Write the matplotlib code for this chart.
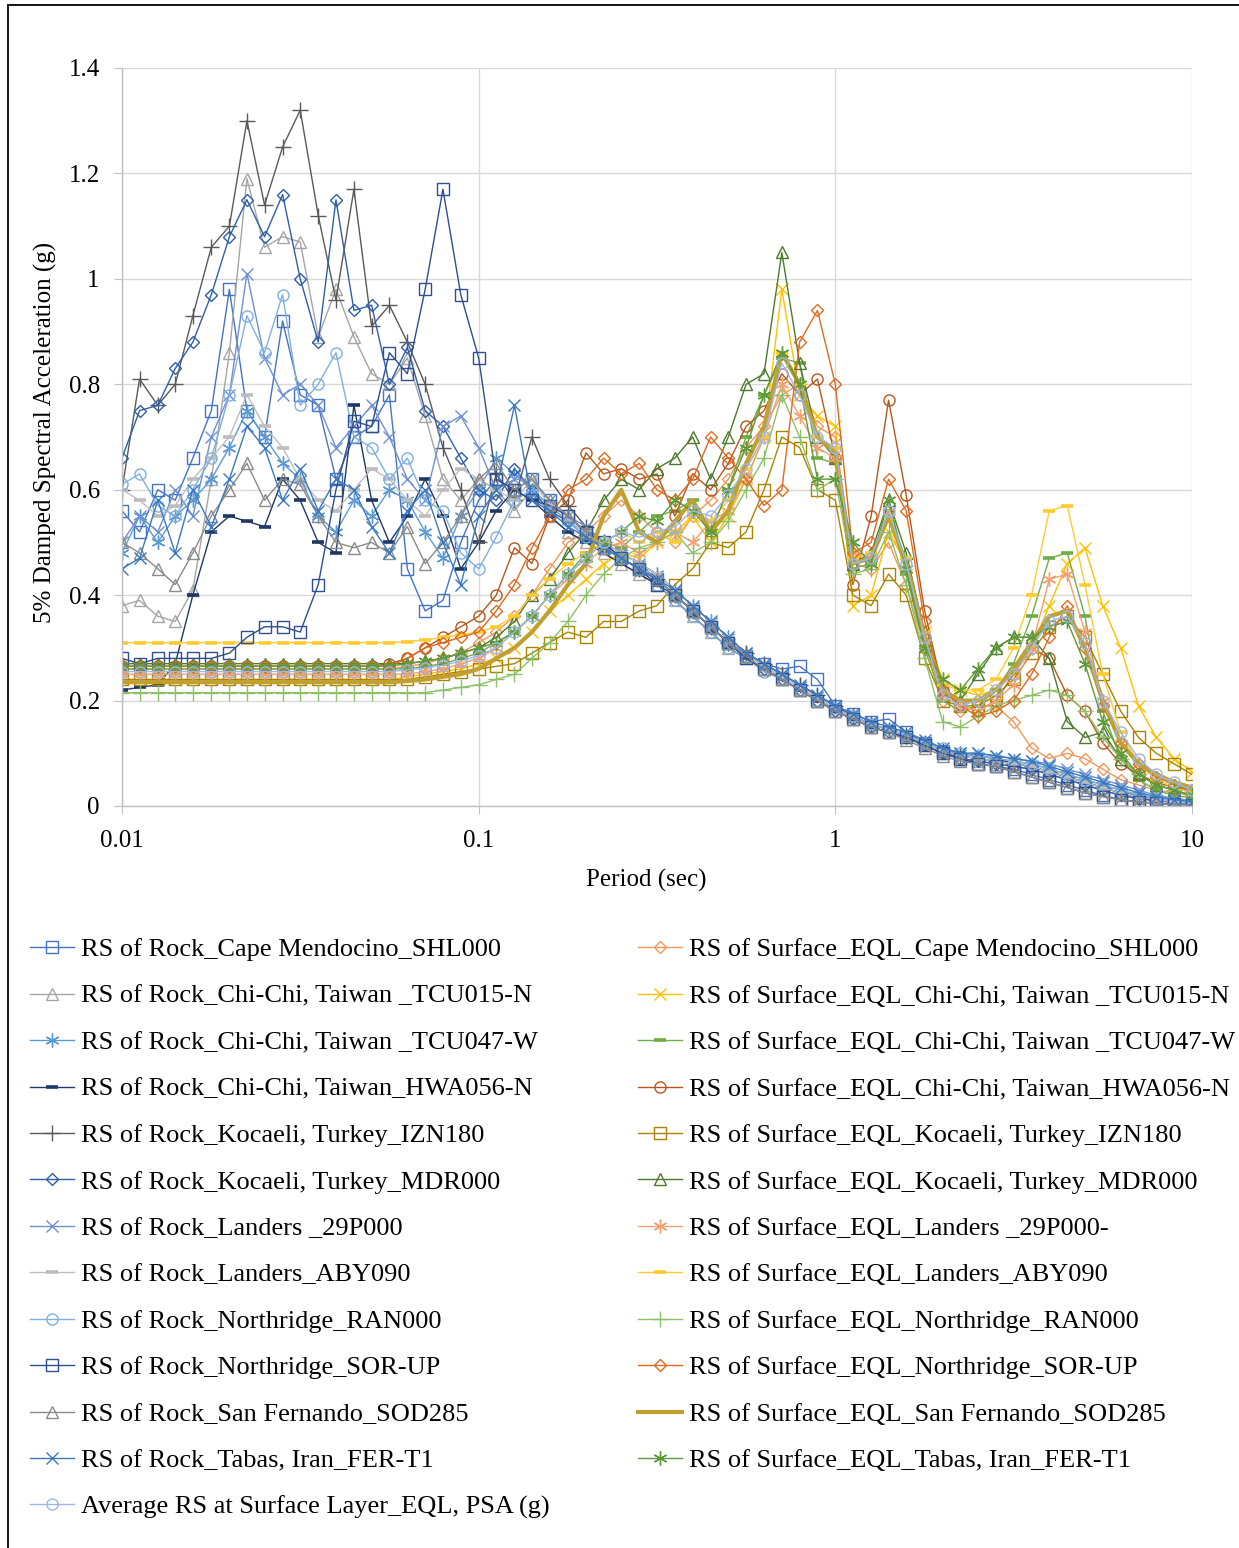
import matplotlib
matplotlib.use("Agg")
import matplotlib.pyplot as plt
from matplotlib.ticker import FixedLocator, NullLocator
from matplotlib.patches import Rectangle

plt.rcParams['font.family'] = ['Liberation Serif', 'DejaVu Serif']

# ---------------- data ----------------
period = [0.01, 0.0112, 0.0126, 0.0141, 0.0158, 0.0178, 0.02, 0.0224, 0.0251, 0.0282,
          0.0316, 0.0355, 0.0398, 0.0447, 0.0501, 0.0562, 0.0631, 0.0708, 0.0794, 0.0891,
          0.1, 0.112, 0.126, 0.141, 0.158, 0.178, 0.2, 0.224, 0.251, 0.282,
          0.316, 0.355, 0.398, 0.447, 0.501, 0.562, 0.631, 0.708, 0.794, 0.891,
          1.0, 1.12, 1.26, 1.41, 1.58, 1.78, 2.0, 2.24, 2.51, 2.82,
          3.16, 3.55, 3.98, 4.47, 5.01, 5.62, 6.31, 7.08, 7.94, 8.91, 10.0]

x_ticks = [0.01, 0.1, 1, 10]
x_tick_labels = ["0.01", "0.1", "1", "10"]
y_ticks = [0, 0.2, 0.4, 0.6, 0.8, 1.0, 1.2, 1.4]
y_tick_labels = ["0", "0.2", "0.4", "0.6", "0.8", "1", "1.2", "1.4"]

rock_names = ["RS of Rock_Cape Mendocino_SHL000",
              "RS of Rock_Chi-Chi, Taiwan _TCU015-N",
              "RS of Rock_Chi-Chi, Taiwan _TCU047-W",
              "RS of Rock_Chi-Chi, Taiwan_HWA056-N",
              "RS of Rock_Kocaeli, Turkey_IZN180",
              "RS of Rock_Kocaeli, Turkey_MDR000",
              "RS of Rock_Landers _29P000",
              "RS of Rock_Landers_ABY090",
              "RS of Rock_Northridge_RAN000",
              "RS of Rock_Northridge_SOR-UP",
              "RS of Rock_San Fernando_SOD285",
              "RS of Rock_Tabas, Iran_FER-T1"]
surf_names = ["RS of Surface_EQL_Cape Mendocino_SHL000",
              "RS of Surface_EQL_Chi-Chi, Taiwan _TCU015-N",
              "RS of Surface_EQL_Chi-Chi, Taiwan _TCU047-W",
              "RS of Surface_EQL_Chi-Chi, Taiwan_HWA056-N",
              "RS of Surface_EQL_Kocaeli, Turkey_IZN180",
              "RS of Surface_EQL_Kocaeli, Turkey_MDR000",
              "RS of Surface_EQL_Landers _29P000-",
              "RS of Surface_EQL_Landers_ABY090",
              "RS of Surface_EQL_Northridge_RAN000",
              "RS of Surface_EQL_Northridge_SOR-UP",
              "RS of Surface_EQL_San Fernando_SOD285",
              "RS of Surface_EQL_Tabas, Iran_FER-T1"]
avg_name = "Average RS at Surface Layer_EQL, PSA (g)"

rock_cape = [0.56, 0.52, 0.60, 0.58, 0.66, 0.75, 0.98, 0.75, 0.70, 0.92, 0.78, 0.76, 0.62, 0.70, 0.72, 0.78, 0.45, 0.37, 0.39, 0.50,
             0.58, 0.62, 0.60, 0.62, 0.58, 0.55, 0.52, 0.49, 0.47, 0.45, 0.43, 0.40, 0.37, 0.34, 0.31, 0.285, 0.27, 0.26, 0.265, 0.24,
             0.19, 0.175, 0.16, 0.165, 0.14, 0.12, 0.105, 0.09, 0.08, 0.075, 0.07, 0.06, 0.05, 0.04, 0.03, 0.02, 0.012, 0.008, 0.005, 0.004, 0.003]
rock_tcu015 = [0.38, 0.39, 0.36, 0.35, 0.41, 0.62, 0.86, 1.19, 1.06, 1.08, 1.07, 0.89, 0.98, 0.89, 0.82, 0.80, 0.85, 0.74, 0.62, 0.58,
               0.62, 0.60, 0.56, 0.60, 0.55, 0.52, 0.50, 0.48, 0.46, 0.44, 0.42, 0.39, 0.36, 0.33, 0.30, 0.28, 0.26, 0.24, 0.22, 0.20,
               0.18, 0.165, 0.15, 0.14, 0.13, 0.115, 0.10, 0.09, 0.085, 0.08, 0.075, 0.07, 0.06, 0.05, 0.04, 0.03, 0.02, 0.015, 0.01, 0.007, 0.005]
rock_tcu047 = [0.48, 0.55, 0.50, 0.55, 0.58, 0.62, 0.68, 0.75, 0.70, 0.65, 0.62, 0.55, 0.52, 0.58, 0.55, 0.60, 0.58, 0.52, 0.47, 0.55,
               0.60, 0.66, 0.63, 0.60, 0.57, 0.54, 0.52, 0.50, 0.48, 0.46, 0.44, 0.41, 0.38, 0.35, 0.32, 0.29, 0.27, 0.25, 0.23, 0.21,
               0.19, 0.17, 0.155, 0.145, 0.13, 0.12, 0.105, 0.10, 0.095, 0.09, 0.085, 0.08, 0.07, 0.06, 0.05, 0.04, 0.03, 0.02, 0.015, 0.01, 0.007]
rock_hwa056 = [0.22, 0.225, 0.23, 0.27, 0.40, 0.52, 0.55, 0.54, 0.53, 0.62, 0.58, 0.50, 0.48, 0.76, 0.58, 0.50, 0.55, 0.62, 0.55, 0.45,
               0.50, 0.56, 0.60, 0.58, 0.55, 0.52, 0.50, 0.48, 0.46, 0.44, 0.42, 0.39, 0.36, 0.33, 0.30, 0.28, 0.26, 0.24, 0.22, 0.20,
               0.18, 0.165, 0.15, 0.14, 0.13, 0.12, 0.11, 0.10, 0.095, 0.09, 0.08, 0.075, 0.065, 0.055, 0.045, 0.035, 0.025, 0.018, 0.012, 0.008, 0.005]
rock_izn180 = [0.60, 0.81, 0.76, 0.80, 0.93, 1.06, 1.10, 1.30, 1.14, 1.25, 1.32, 1.12, 0.96, 1.17, 0.91, 0.95, 0.88, 0.80, 0.68, 0.60,
               0.50, 0.63, 0.58, 0.70, 0.62, 0.57, 0.53, 0.50, 0.47, 0.45, 0.43, 0.40, 0.37, 0.34, 0.31, 0.29, 0.27, 0.25, 0.23, 0.21,
               0.19, 0.17, 0.155, 0.145, 0.135, 0.12, 0.105, 0.095, 0.09, 0.085, 0.08, 0.075, 0.065, 0.055, 0.045, 0.035, 0.025, 0.018, 0.012, 0.009, 0.006]
rock_mdr000 = [0.66, 0.75, 0.76, 0.83, 0.88, 0.97, 1.08, 1.15, 1.08, 1.16, 1.00, 0.88, 1.15, 0.94, 0.95, 0.80, 0.87, 0.75, 0.72, 0.66,
               0.60, 0.58, 0.64, 0.60, 0.56, 0.54, 0.51, 0.49, 0.47, 0.45, 0.43, 0.40, 0.37, 0.34, 0.31, 0.28, 0.26, 0.24, 0.22, 0.20,
               0.18, 0.165, 0.15, 0.14, 0.13, 0.115, 0.10, 0.09, 0.085, 0.08, 0.075, 0.07, 0.06, 0.05, 0.04, 0.03, 0.02, 0.014, 0.01, 0.007, 0.005]
rock_29p000 = [0.50, 0.55, 0.52, 0.60, 0.55, 0.70, 0.78, 1.01, 0.85, 0.78, 0.80, 0.76, 0.68, 0.72, 0.76, 0.70, 0.62, 0.58, 0.72, 0.74,
               0.68, 0.60, 0.62, 0.62, 0.58, 0.55, 0.53, 0.50, 0.48, 0.46, 0.43, 0.40, 0.37, 0.34, 0.31, 0.29, 0.265, 0.245, 0.225, 0.205,
               0.185, 0.17, 0.155, 0.145, 0.135, 0.12, 0.105, 0.10, 0.10, 0.095, 0.09, 0.085, 0.08, 0.07, 0.06, 0.05, 0.04, 0.03, 0.02, 0.015, 0.01]
rock_aby090 = [0.60, 0.58, 0.55, 0.57, 0.62, 0.66, 0.70, 0.78, 0.72, 0.68, 0.62, 0.58, 0.56, 0.60, 0.64, 0.62, 0.58, 0.55, 0.60, 0.64,
               0.62, 0.60, 0.58, 0.62, 0.57, 0.54, 0.52, 0.50, 0.48, 0.46, 0.44, 0.41, 0.38, 0.35, 0.32, 0.29, 0.265, 0.245, 0.225, 0.205,
               0.185, 0.17, 0.155, 0.145, 0.135, 0.12, 0.105, 0.095, 0.09, 0.085, 0.08, 0.075, 0.065, 0.055, 0.045, 0.035, 0.025, 0.018, 0.012, 0.008, 0.005]
rock_ran000 = [0.61, 0.63, 0.57, 0.55, 0.60, 0.66, 0.78, 0.93, 0.86, 0.97, 0.76, 0.80, 0.86, 0.70, 0.68, 0.62, 0.66, 0.58, 0.56, 0.48,
               0.45, 0.51, 0.58, 0.60, 0.57, 0.54, 0.51, 0.49, 0.47, 0.45, 0.42, 0.39, 0.36, 0.33, 0.30, 0.28, 0.255, 0.24, 0.22, 0.20,
               0.185, 0.17, 0.155, 0.145, 0.13, 0.12, 0.11, 0.10, 0.095, 0.09, 0.085, 0.08, 0.07, 0.06, 0.05, 0.04, 0.03, 0.022, 0.015, 0.01, 0.007]
rock_sorup = [0.28, 0.27, 0.28, 0.28, 0.28, 0.28, 0.29, 0.32, 0.34, 0.34, 0.33, 0.42, 0.60, 0.73, 0.72, 0.86, 0.82, 0.98, 1.17, 0.97,
              0.85, 0.62, 0.60, 0.58, 0.57, 0.55, 0.52, 0.50, 0.47, 0.45, 0.42, 0.40, 0.37, 0.34, 0.31, 0.28, 0.26, 0.24, 0.22, 0.20,
              0.18, 0.165, 0.15, 0.14, 0.13, 0.115, 0.10, 0.09, 0.08, 0.075, 0.065, 0.055, 0.045, 0.035, 0.025, 0.018, 0.012, 0.008, 0.005, 0.003, 0.002]
rock_sod285 = [0.50, 0.48, 0.45, 0.42, 0.48, 0.55, 0.60, 0.65, 0.58, 0.62, 0.61, 0.55, 0.50, 0.49, 0.50, 0.48, 0.53, 0.46, 0.50, 0.55,
               0.62, 0.65, 0.60, 0.62, 0.58, 0.55, 0.52, 0.49, 0.47, 0.45, 0.43, 0.40, 0.37, 0.34, 0.31, 0.285, 0.26, 0.24, 0.22, 0.20,
               0.18, 0.165, 0.15, 0.14, 0.125, 0.11, 0.095, 0.085, 0.08, 0.075, 0.065, 0.055, 0.045, 0.035, 0.025, 0.018, 0.012, 0.008, 0.005, 0.003, 0.002]
rock_tabas = [0.45, 0.47, 0.58, 0.48, 0.60, 0.53, 0.62, 0.72, 0.68, 0.58, 0.64, 0.56, 0.62, 0.60, 0.53, 0.48, 0.56, 0.60, 0.50, 0.42,
              0.55, 0.60, 0.76, 0.58, 0.56, 0.53, 0.51, 0.49, 0.47, 0.45, 0.43, 0.41, 0.38, 0.35, 0.32, 0.29, 0.27, 0.25, 0.23, 0.21,
              0.19, 0.175, 0.16, 0.15, 0.14, 0.125, 0.11, 0.10, 0.10, 0.095, 0.09, 0.085, 0.075, 0.065, 0.055, 0.045, 0.035, 0.025, 0.018, 0.012, 0.008]

surf_cape = [0.26, 0.26, 0.26, 0.26, 0.26, 0.26, 0.26, 0.26, 0.26, 0.26, 0.26, 0.26, 0.26, 0.26, 0.26, 0.26, 0.265, 0.27, 0.28, 0.29,
             0.31, 0.33, 0.36, 0.40, 0.45, 0.50, 0.52, 0.55, 0.58, 0.55, 0.52, 0.50, 0.55, 0.58, 0.62, 0.68, 0.72, 0.78, 0.80, 0.72,
             0.70, 0.46, 0.45, 0.50, 0.42, 0.30, 0.20, 0.18, 0.19, 0.19, 0.16, 0.11, 0.09, 0.10, 0.09, 0.07, 0.05, 0.04, 0.03, 0.025, 0.02]
surf_tcu015 = [0.24, 0.24, 0.24, 0.24, 0.24, 0.24, 0.24, 0.24, 0.24, 0.24, 0.24, 0.24, 0.24, 0.24, 0.24, 0.24, 0.245, 0.25, 0.255, 0.26,
               0.27, 0.28, 0.30, 0.33, 0.37, 0.40, 0.43, 0.46, 0.48, 0.47, 0.50, 0.52, 0.55, 0.50, 0.55, 0.62, 0.70, 0.98, 0.78, 0.74,
               0.72, 0.38, 0.40, 0.52, 0.46, 0.33, 0.24, 0.22, 0.21, 0.22, 0.25, 0.30, 0.38, 0.46, 0.49, 0.38, 0.30, 0.19, 0.13, 0.09, 0.065]
surf_tcu047 = [0.26, 0.26, 0.26, 0.26, 0.26, 0.26, 0.26, 0.26, 0.26, 0.26, 0.26, 0.26, 0.26, 0.26, 0.26, 0.26, 0.26, 0.265, 0.27, 0.28,
               0.29, 0.31, 0.33, 0.36, 0.40, 0.44, 0.48, 0.50, 0.49, 0.52, 0.55, 0.56, 0.58, 0.52, 0.60, 0.70, 0.78, 0.85, 0.84, 0.66,
               0.65, 0.45, 0.46, 0.56, 0.44, 0.30, 0.20, 0.18, 0.19, 0.22, 0.27, 0.36, 0.47, 0.48, 0.36, 0.18, 0.09, 0.05, 0.03, 0.02, 0.015]
surf_hwa056 = [0.265, 0.265, 0.265, 0.265, 0.265, 0.265, 0.265, 0.265, 0.265, 0.265, 0.265, 0.265, 0.265, 0.265, 0.265, 0.27, 0.28, 0.30, 0.32, 0.34,
               0.36, 0.40, 0.49, 0.46, 0.55, 0.58, 0.67, 0.63, 0.64, 0.62, 0.63, 0.55, 0.63, 0.60, 0.65, 0.72, 0.75, 0.82, 0.78, 0.81,
               0.66, 0.42, 0.55, 0.77, 0.59, 0.37, 0.22, 0.19, 0.18, 0.20, 0.25, 0.30, 0.28, 0.21, 0.18, 0.12, 0.08, 0.06, 0.045, 0.035, 0.03]
surf_izn180 = [0.24, 0.24, 0.24, 0.24, 0.24, 0.24, 0.24, 0.24, 0.24, 0.24, 0.24, 0.24, 0.24, 0.24, 0.24, 0.24, 0.24, 0.245, 0.25, 0.255,
               0.26, 0.265, 0.27, 0.29, 0.31, 0.33, 0.32, 0.35, 0.35, 0.37, 0.38, 0.42, 0.45, 0.50, 0.49, 0.52, 0.60, 0.70, 0.68, 0.60,
               0.58, 0.40, 0.38, 0.44, 0.40, 0.28, 0.20, 0.19, 0.19, 0.21, 0.24, 0.29, 0.34, 0.36, 0.32, 0.25, 0.18, 0.13, 0.10, 0.08, 0.06]
surf_mdr000 = [0.27, 0.27, 0.27, 0.27, 0.27, 0.27, 0.27, 0.27, 0.27, 0.27, 0.27, 0.27, 0.27, 0.27, 0.27, 0.27, 0.27, 0.275, 0.28, 0.29,
               0.30, 0.32, 0.35, 0.40, 0.43, 0.48, 0.52, 0.58, 0.62, 0.60, 0.64, 0.66, 0.70, 0.62, 0.70, 0.80, 0.82, 1.05, 0.84, 0.70,
               0.66, 0.46, 0.48, 0.58, 0.48, 0.33, 0.22, 0.20, 0.25, 0.30, 0.32, 0.32, 0.28, 0.16, 0.13, 0.14, 0.09, 0.06, 0.04, 0.03, 0.02]
surf_29p000 = [0.25, 0.25, 0.25, 0.25, 0.25, 0.25, 0.25, 0.25, 0.25, 0.25, 0.25, 0.25, 0.25, 0.25, 0.25, 0.25, 0.25, 0.255, 0.26, 0.27,
               0.28, 0.30, 0.33, 0.36, 0.40, 0.43, 0.46, 0.49, 0.50, 0.48, 0.50, 0.52, 0.50, 0.54, 0.56, 0.62, 0.70, 0.80, 0.74, 0.68,
               0.66, 0.48, 0.47, 0.56, 0.45, 0.31, 0.21, 0.19, 0.18, 0.20, 0.23, 0.30, 0.43, 0.44, 0.33, 0.20, 0.12, 0.08, 0.05, 0.035, 0.025]
surf_aby090 = [0.31, 0.31, 0.31, 0.31, 0.31, 0.31, 0.31, 0.31, 0.31, 0.31, 0.31, 0.31, 0.31, 0.31, 0.31, 0.31, 0.312, 0.315, 0.32, 0.325,
               0.33, 0.34, 0.36, 0.40, 0.43, 0.46, 0.48, 0.50, 0.52, 0.50, 0.52, 0.50, 0.56, 0.54, 0.58, 0.64, 0.70, 0.86, 0.80, 0.70,
               0.68, 0.47, 0.48, 0.54, 0.47, 0.33, 0.23, 0.22, 0.22, 0.24, 0.30, 0.40, 0.56, 0.57, 0.42, 0.25, 0.14, 0.08, 0.05, 0.035, 0.025]
surf_ran000 = [0.215, 0.215, 0.215, 0.215, 0.215, 0.215, 0.215, 0.215, 0.215, 0.215, 0.215, 0.215, 0.215, 0.215, 0.215, 0.215, 0.215, 0.215, 0.22, 0.225,
               0.23, 0.24, 0.25, 0.28, 0.31, 0.35, 0.40, 0.44, 0.47, 0.49, 0.50, 0.52, 0.48, 0.50, 0.54, 0.60, 0.66, 0.78, 0.70, 0.60,
               0.62, 0.44, 0.45, 0.52, 0.42, 0.28, 0.16, 0.15, 0.17, 0.19, 0.20, 0.21, 0.22, 0.21, 0.18, 0.13, 0.09, 0.06, 0.04, 0.03, 0.02]
surf_sorup = [0.265, 0.265, 0.265, 0.265, 0.265, 0.265, 0.265, 0.265, 0.265, 0.265, 0.265, 0.265, 0.265, 0.265, 0.265, 0.265, 0.28, 0.30, 0.31, 0.32,
              0.33, 0.37, 0.42, 0.49, 0.55, 0.60, 0.62, 0.66, 0.63, 0.65, 0.60, 0.58, 0.62, 0.70, 0.66, 0.62, 0.57, 0.60, 0.88, 0.94,
              0.80, 0.48, 0.50, 0.62, 0.56, 0.35, 0.22, 0.19, 0.17, 0.18, 0.20, 0.25, 0.32, 0.38, 0.30, 0.19, 0.12, 0.08, 0.055, 0.04, 0.03]
surf_sod285 = [0.235, 0.235, 0.235, 0.235, 0.235, 0.235, 0.235, 0.235, 0.235, 0.235, 0.235, 0.235, 0.235, 0.235, 0.235, 0.235, 0.237, 0.24, 0.245, 0.25,
               0.26, 0.28, 0.30, 0.33, 0.37, 0.42, 0.46, 0.55, 0.60, 0.52, 0.50, 0.54, 0.58, 0.52, 0.56, 0.65, 0.72, 0.86, 0.80, 0.70,
               0.67, 0.46, 0.47, 0.55, 0.46, 0.32, 0.22, 0.20, 0.20, 0.22, 0.26, 0.31, 0.36, 0.37, 0.30, 0.20, 0.12, 0.08, 0.06, 0.045, 0.035]
surf_tabas = [0.265, 0.265, 0.265, 0.265, 0.265, 0.265, 0.265, 0.265, 0.265, 0.265, 0.265, 0.265, 0.265, 0.265, 0.265, 0.265, 0.27, 0.275, 0.28, 0.29,
              0.30, 0.31, 0.33, 0.36, 0.40, 0.44, 0.47, 0.50, 0.52, 0.55, 0.54, 0.58, 0.56, 0.52, 0.60, 0.68, 0.78, 0.86, 0.80, 0.62,
              0.62, 0.50, 0.46, 0.58, 0.45, 0.30, 0.24, 0.22, 0.26, 0.30, 0.32, 0.32, 0.34, 0.35, 0.27, 0.16, 0.10, 0.06, 0.04, 0.03, 0.02]
surf_average = [0.255, 0.255, 0.255, 0.255, 0.255, 0.255, 0.255, 0.255, 0.255, 0.255, 0.255, 0.255, 0.255, 0.255, 0.255, 0.255, 0.258, 0.262, 0.267, 0.275,
                0.285, 0.30, 0.33, 0.36, 0.40, 0.44, 0.47, 0.50, 0.52, 0.51, 0.52, 0.53, 0.56, 0.55, 0.59, 0.64, 0.70, 0.84, 0.78, 0.70,
                0.68, 0.46, 0.47, 0.56, 0.46, 0.32, 0.21, 0.19, 0.20, 0.22, 0.25, 0.30, 0.35, 0.36, 0.31, 0.20, 0.14, 0.09, 0.06, 0.045, 0.03]

rock_values = [rock_cape, rock_tcu015, rock_tcu047, rock_hwa056, rock_izn180, rock_mdr000,
               rock_29p000, rock_aby090, rock_ran000, rock_sorup, rock_sod285, rock_tabas]
surf_values = [surf_cape, surf_tcu015, surf_tcu047, surf_hwa056, surf_izn180, surf_mdr000,
               surf_29p000, surf_aby090, surf_ran000, surf_sorup, surf_sod285, surf_tabas]

# ---------------- styles ----------------
AST = (6, 2, 0)
rock_styles = [
    dict(color='#4472C4', marker='s', ms=8),
    dict(color='#A5A5A5', marker='^', ms=8),
    dict(color='#5B9BD5', marker=AST, ms=10),
    dict(color='#203864', marker='_', ms=9, mew=2.6),
    dict(color='#595959', marker='+', ms=11),
    dict(color='#2F5FA8', marker='D', ms=6.5),
    dict(color='#6F8FD0', marker='x', ms=8),
    dict(color='#BDBDBD', marker='_', ms=9, mew=2.6),
    dict(color='#7FB0DE', marker='o', ms=8),
    dict(color='#2E4E8F', marker='s', ms=8),
    dict(color='#8A8A8A', marker='^', ms=8),
    dict(color='#3A78C0', marker='x', ms=9),
]
surf_styles = [
    dict(color='#F1975A', marker='D', ms=6.5),
    dict(color='#FFC000', marker='x', ms=9),
    dict(color='#70AD47', marker='_', ms=9, mew=2.6),
    dict(color='#B8561C', marker='o', ms=8),
    dict(color='#A88400', marker='s', ms=8),
    dict(color='#4E7A2E', marker='^', ms=8),
    dict(color='#F4A070', marker=AST, ms=10),
    dict(color='#FFCB2F', marker='_', ms=9, mew=2.6),
    dict(color='#8CC168', marker='+', ms=11),
    dict(color='#DD6A1E', marker='D', ms=6.5),
    dict(color='#C0A030', marker='None', lw=3.0),
    dict(color='#5E9A3A', marker=AST, ms=10),
]
avg_style = dict(color='#9DB7E3', marker='o', ms=8)

fig = plt.figure(figsize=(12.39, 15.48), dpi=100)
W, H = 1239.0, 1548.0
ax = fig.add_axes([122 / W, 1 - 806 / H, (1192 - 122) / W, (806 - 68) / H])
ax.set_xscale('log')


def draw(vals, st, label):
    kw = dict(lw=1.0, mew=1.0, mfc='none')
    kw.update(st)
    line, = ax.plot(period, vals, label=label, **kw)
    return line


rock_handles, surf_handles = [], []
for i in range(12):
    rock_handles.append(draw(rock_values[i], rock_styles[i], rock_names[i]))
    surf_handles.append(draw(surf_values[i], surf_styles[i], surf_names[i]))
avg_handle = draw(surf_average, avg_style, avg_name)

ax.set_xlim(0.01, 10)
ax.set_ylim(0, 1.4)
ax.xaxis.set_major_locator(FixedLocator(x_ticks))
ax.xaxis.set_minor_locator(NullLocator())
ax.set_xticklabels(x_tick_labels)
ax.yaxis.set_major_locator(FixedLocator(y_ticks))
ax.set_yticklabels(y_tick_labels)
ax.grid(True, which='major', color='#D9D9D9', lw=1.0)
ax.set_axisbelow(True)
for s in ['top', 'right']:
    ax.spines[s].set_visible(False)
for s in ['left', 'bottom']:
    ax.spines[s].set_color('#BFBFBF')
    ax.spines[s].set_linewidth(1.0)
ax.tick_params(axis='x', direction='out', length=6, color='#BFBFBF', labelsize=18, pad=11)
ax.tick_params(axis='y', direction='out', length=6, color='#BFBFBF', labelsize=18, pad=10)

fig.text(646 / W, 1 - 880 / H, "Period (sec)", ha='center', va='center', fontsize=18)
fig.text(45 / W, 1 - 432 / H, "5% Damped Spectral Acceleration (g)", ha='center', va='center',
         rotation=90, fontsize=18)

leg_kw = dict(frameon=False, fontsize=19, loc='upper left', borderpad=0, borderaxespad=0,
              handlelength=1.65, handletextpad=0.28, labelspacing=0.87)
leg1 = fig.legend(rock_handles + [avg_handle], rock_names + [avg_name],
                  bbox_to_anchor=(30 / W, 1 - 938 / H), **leg_kw)
leg2 = fig.legend(surf_handles, surf_names, bbox_to_anchor=(638 / W, 1 - 938 / H), **leg_kw)

fig.patches.append(Rectangle((8 / W, -0.01), 1.2, 1 - 5 / H + 0.01, transform=fig.transFigure,
                             fill=False, edgecolor='black', lw=1.3, clip_on=False))

fig.savefig('out.png', dpi=100)
